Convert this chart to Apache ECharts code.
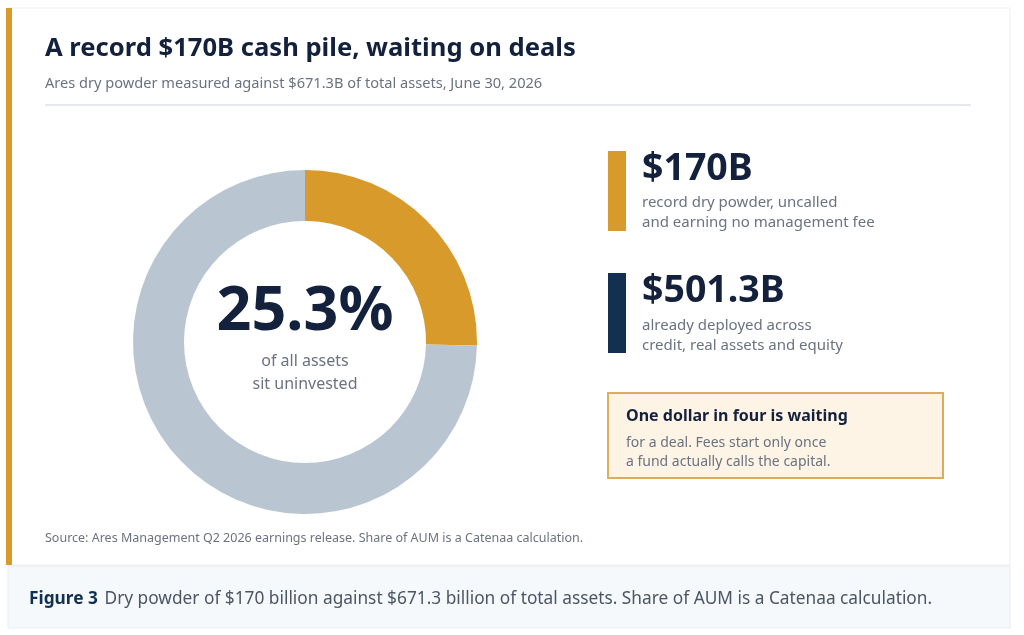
<!DOCTYPE html>
<html><head><meta charset="utf-8">
<script src="https://cdn.jsdelivr.net/npm/echarts@6/dist/echarts.min.js"></script>
<style>html,body{margin:0;padding:0;background:#fff}#c{width:1024px;height:635px}</style>
</head><body><div id="c"></div>
<script>
const categories = ['Dry powder', 'Deployed'];
const valuesB = [170, 501.3];
const sliceColors = ['#d99a2c', '#b9c6d1'];
const totalB = 671.3;

const F = '"Noto Sans", "Open Sans", sans-serif';
const dark = '#14213d';
const grey = '#6b7280';
const share = (valuesB[0] / totalB * 100).toFixed(1) + '%';

const chart = echarts.init(document.getElementById('c'), null, {renderer: 'canvas'});
const T = (x, y, text, size, color, weight, extra) => Object.assign({
  type: 'text', x: x, y: y, z: 10,
  style: Object.assign({text: text, fill: color, font: (weight || 'normal') + ' ' + size + 'px ' + F,
    textVerticalAlign: 'middle'}, extra || {})
});
chart.setOption({
  animation: false,
  graphic: [
    {type: 'rect', shape: {x: 8, y: 8, width: 1002, height: 557}, style: {fill: '#fff', stroke: '#eceff3', lineWidth: 1}, z: 0},
    {type: 'rect', shape: {x: 6, y: 8, width: 6, height: 557}, style: {fill: '#d99a2c'}, z: 1},
    {type: 'rect', shape: {x: 8, y: 566, width: 1002, height: 62}, style: {fill: '#f6f9fc', stroke: '#e8ecf1', lineWidth: 1}, z: 0},
    {type: 'rect', shape: {x: 45, y: 104, width: 926, height: 2}, style: {fill: '#e5e8ed'}, z: 1},
    T(45, 49, 'A record $170B cash pile, waiting on deals', 25.6, dark, 'bold'),
    T(45, 84, 'Ares dry powder measured against $671.3B of total assets, June 30, 2026', 14.6, grey),
    // center texts
    T(305, 313, share, 61, dark, 'bold', {textAlign: 'center'}),
    T(305, 361, 'of all assets', 16, grey, 'normal', {textAlign: 'center'}),
    T(305, 384, 'sit uninvested', 16, grey, 'normal', {textAlign: 'center'}),
    // right panel
    {type: 'rect', shape: {x: 608, y: 151, width: 18, height: 80}, style: {fill: '#d99a2c'}, z: 1},
    T(642, 169, '$' + valuesB[0] + 'B', 37.5, dark, 'bold'),
    T(642, 203, 'record dry powder, uncalled', 15, grey),
    T(642, 223, 'and earning no management fee', 15, grey),
    {type: 'rect', shape: {x: 608, y: 273, width: 18, height: 80}, style: {fill: '#12304f'}, z: 1},
    T(642, 291, '$' + valuesB[1] + 'B', 37.5, dark, 'bold'),
    T(642, 326, 'already deployed across', 15, grey),
    T(642, 346, 'credit, real assets and equity', 15, grey),
    {type: 'rect', shape: {x: 608, y: 393, width: 335, height: 85}, style: {fill: '#fdf4e6', stroke: '#dcae5a', lineWidth: 2}, z: 1},
    T(626, 416, 'One dollar in four is waiting', 16, dark, 'bold'),
    T(626, 443, 'for a deal. Fees start only once', 14, grey),
    T(626, 462, 'a fund actually calls the capital.', 14, grey),
    T(45, 538, 'Source: Ares Management Q2 2026 earnings release. Share of AUM is a Catenaa calculation.', 12.5, grey),
    {type: 'text', x: 29, y: 599, z: 10, style: {
      text: '{b|Figure 3}  {n|Dry powder of $170 billion against $671.3 billion of total assets. Share of AUM is a Catenaa calculation.}',
      textVerticalAlign: 'middle',
      rich: {
        b: {font: 'bold 17.3px ' + F, fill: '#12304f'},
        n: {font: 'normal 17.3px ' + F, fill: '#4b5563'}
      }
    }}
  ],
  series: [{
    type: 'pie',
    center: [305, 342],
    radius: [121, 172],
    startAngle: 90,
    label: {show: false},
    labelLine: {show: false},
    emphasis: {disabled: true},
    silent: true,
    z: 5,
    data: categories.map((c, i) => ({name: c, value: valuesB[i], itemStyle: {color: sliceColors[i]}}))
  }]
});
</script></body></html>
